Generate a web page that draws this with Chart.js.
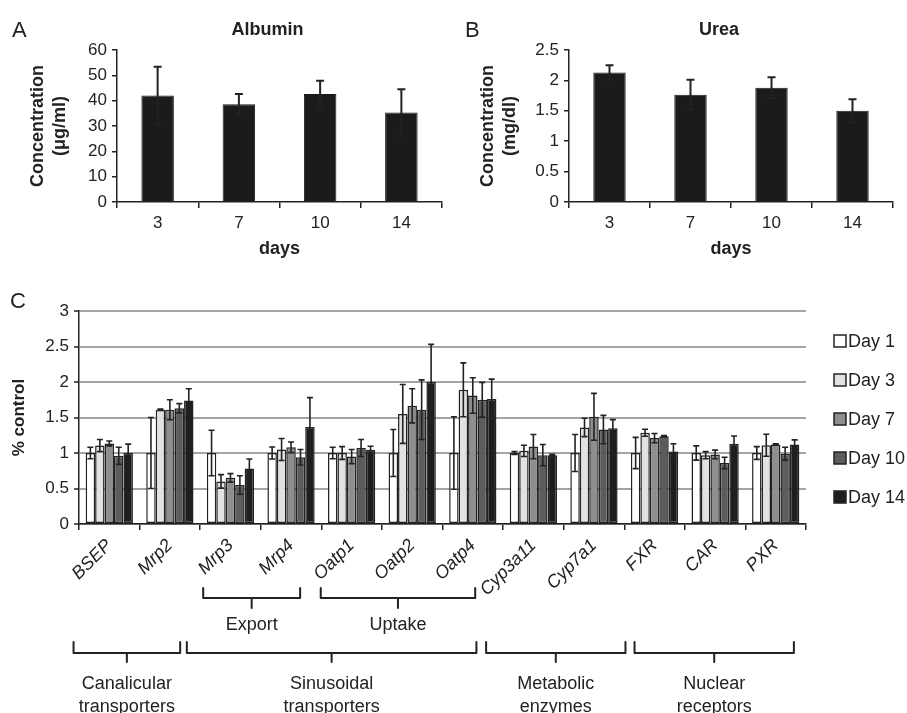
<!DOCTYPE html>
<html>
<head>
<meta charset="utf-8">
<script src="https://cdn.jsdelivr.net/npm/chart.js@4.4.1/dist/chart.umd.min.js"></script>
<style>
  html, body { margin: 0; padding: 0; background: #fff; }
  #wrap { position: relative; width: 907px; height: 713px; overflow: hidden; background: #fff; }
  canvas { position: absolute; }
</style>
</head>
<body>
<div id="wrap">
  <canvas id="albumin" width="450" height="270" style="left:0;top:0"></canvas>
  <canvas id="urea" width="457" height="270" style="left:450px;top:0"></canvas>
  <canvas id="expr" width="907" height="433" style="left:0;top:280px"></canvas>
</div>
<script>
// ---- Panel A / B: secreted markers over time in culture ----
const days = ['3', '7', '10', '14'];
const albumin = [42.0, 38.6, 42.6, 35.3];      // µg/ml
const albuminErr = [11.4, 4.0, 5.3, 9.2];
const urea = [2.13, 1.765, 1.88, 1.50];        // mg/dl
const ureaErr = [0.12, 0.245, 0.17, 0.19];

// ---- Panel C: relative gene expression ----
const genes = ['BSEP', 'Mrp2', 'Mrp3', 'Mrp4', 'Oatp1', 'Oatp2', 'Oatp4',
               'Cyp3a11', 'Cyp7a1', 'FXR', 'CAR', 'PXR'];
const seriesNames = ['Day 1', 'Day 3', 'Day 7', 'Day 10', 'Day 14'];
const day1    = [1, 1, 1, 1, 1, 1, 1, 1, 1, 1, 1, 1];
const day1Err = [0.08, 0.5, 0.32, 0.085, 0.08, 0.33, 0.51, 0.02, 0.26, 0.22, 0.10, 0.09];
const day3    = [1.105, 1.61, 0.60, 1.05, 1.0, 1.55, 1.89, 1.03, 1.36, 1.285, 0.97, 1.11];
const day3Err = [0.085, 0.01, 0.095, 0.155, 0.09, 0.415, 0.38, 0.08, 0.13, 0.05, 0.05, 0.155];
const day7    = [1.135, 1.61, 0.65, 1.08, 0.95, 1.665, 1.81, 1.09, 1.51, 1.21, 0.98, 1.12];
const day7Err = [0.035, 0.14, 0.06, 0.075, 0.10, 0.24, 0.25, 0.17, 0.33, 0.065, 0.06, 0.01];
const day10    = [0.96, 1.63, 0.55, 0.94, 1.07, 1.61, 1.75, 0.97, 1.33, 1.235, 0.86, 0.99];
const day10Err = [0.12, 0.065, 0.13, 0.11, 0.12, 0.42, 0.245, 0.15, 0.20, 0.01, 0.08, 0.09];
const day14    = [1.0, 1.74, 0.78, 1.365, 1.045, 2.0, 1.76, 0.97, 1.35, 1.02, 1.13, 1.12];
const day14Err = [0.125, 0.165, 0.135, 0.415, 0.05, 0.53, 0.28, 0.01, 0.12, 0.11, 0.11, 0.065];

// Gene groupings shown under the axis
const subGroups = [
  { label: ['Export'], from: 'Mrp3', to: 'Mrp4' },
  { label: ['Uptake'], from: 'Oatp1', to: 'Oatp4' }
];
const mainGroups = [
  { label: ['Canalicular', 'transporters'], from: 'BSEP', to: 'Mrp2' },
  { label: ['Sinusoidal', 'transporters'], from: 'Mrp3', to: 'Oatp4' },
  { label: ['Metabolic', 'enzymes'], from: 'Cyp3a11', to: 'Cyp7a1' },
  { label: ['Nuclear', 'receptors'], from: 'FXR', to: 'PXR' }
];

// ---- styling ----
const FAMILY = '"Liberation Sans", Arial, Helvetica, sans-serif';
const INK = '#222222';
const dayFills = ['#ffffff', '#e2e2e2', '#8e8e8e', '#5c5c5c', '#1e1e1e'];
// how far each bracket reaches beyond its first/last gene (in category units)
const bracketReach = {
  Export: [0.45, 0.15], Uptake: [0.51, 0.04],
  Canalicular: [0.59, 0.17], Sinusoidal: [0.72, 0.06],
  Metabolic: [0.78, 0.52], Nuclear: [0.33, 0.30]
};

Chart.defaults.font.family = FAMILY;
Chart.defaults.color = INK;

const f = (size, extra) => Object.assign({ family: FAMILY, size: size }, extra || {});
// plain numbers: 2.5, 2, 1.5 ... without padded decimals
const plainTick = (v) => String(Math.round(v * 100) / 100);

// error whiskers (both directions) centred on each bar
const errorBars = {
  id: 'errorBars',
  afterDatasetsDraw(chart, args, o) {
    const ctx = chart.ctx;
    const ys = chart.scales.y;
    ctx.save();
    ctx.strokeStyle = o.color || INK;
    ctx.lineWidth = o.width || 1.5;
    ctx.lineCap = 'butt';
    chart.data.datasets.forEach((ds, di) => {
      if (!ds.errors) return;
      const meta = chart.getDatasetMeta(di);
      meta.data.forEach((bar, i) => {
        const v = ds.data[i], e = ds.errors[i];
        const x = bar.x;
        const yt = ys.getPixelForValue(v + e);
        const yb = ys.getPixelForValue(v - e);
        const c = o.capHalf || 3;
        ctx.beginPath();
        ctx.moveTo(x, yt); ctx.lineTo(x, yb);
        ctx.moveTo(x - c, yt); ctx.lineTo(x + c, yt);
        ctx.moveTo(x - c, yb); ctx.lineTo(x + c, yb);
        ctx.stroke();
      });
    });
    ctx.restore();
  }
};

// panel letter and bold chart heading
const panelText = {
  id: 'panelText',
  afterDraw(chart, args, o) {
    const ctx = chart.ctx;
    const a = chart.chartArea;
    ctx.save();
    ctx.fillStyle = INK;
    ctx.textBaseline = 'middle';
    if (o.letter) {
      ctx.font = '22px ' + FAMILY;
      ctx.textAlign = 'left';
      ctx.fillText(o.letter, o.letterX, o.letterY);
    }
    if (o.title) {
      ctx.font = 'bold 18px ' + FAMILY;
      ctx.textAlign = 'center';
      ctx.fillText(o.title, (a.left + a.right) / 2 + (o.titleShift || 0), o.titleY);
    }
    ctx.restore();
  }
};

// legend listed down the right-hand side
const sideLegend = {
  id: 'sideLegend',
  afterDraw(chart, args, o) {
    const ctx = chart.ctx;
    const a = chart.chartArea;
    ctx.save();
    ctx.font = '18px ' + FAMILY;
    ctx.textAlign = 'left';
    ctx.textBaseline = 'middle';
    chart.data.datasets.forEach((ds, i) => {
      const x = a.right + o.offsetX;
      const y = a.top + o.firstY + i * o.step;
      ctx.fillStyle = ds.backgroundColor;
      ctx.fillRect(x, y - 6, 12, 12);
      ctx.strokeStyle = INK;
      ctx.lineWidth = 1.5;
      ctx.strokeRect(x, y - 6, 12, 12);
      ctx.fillStyle = INK;
      ctx.fillText(ds.label, x + 14, y + 1);
    });
    ctx.restore();
  }
};

// brackets grouping the genes under the axis
const groupBrackets = {
  id: 'groupBrackets',
  afterDraw(chart, args, o) {
    const ctx = chart.ctx;
    const xs = chart.scales.x;
    const base = chart.chartArea.bottom;
    ctx.save();
    ctx.strokeStyle = INK;
    ctx.fillStyle = INK;
    ctx.lineWidth = 2;
    ctx.lineCap = 'round';
    ctx.lineJoin = 'round';
    ctx.font = '18px ' + FAMILY;
    ctx.textAlign = 'center';
    ctx.textBaseline = 'middle';
    o.rows.forEach(row => {
      row.groups.forEach(g => {
        const reach = bracketReach[g.label[0]] || [0.5, 0.1];
        const x0 = xs.getPixelForValue(genes.indexOf(g.from) - reach[0]);
        const x1 = xs.getPixelForValue(genes.indexOf(g.to) + reach[1]);
        const xm = (x0 + x1) / 2;
        const yTop = base + row.top, yLine = base + row.line, yStem = base + row.stem;
        ctx.beginPath();
        ctx.moveTo(x0, yTop);
        ctx.lineTo(x0, yLine);
        ctx.lineTo(x1, yLine);
        ctx.lineTo(x1, yTop);
        ctx.moveTo(xm, yLine);
        ctx.lineTo(xm, yStem);
        ctx.stroke();
        g.label.forEach((t, k) => {
          ctx.fillText(t, xm, base + row.text + k * row.lineGap);
        });
      });
    });
    ctx.restore();
  }
};

function timeCourse(canvasId, values, errs, max, step, letter, title, unit) {
  return new Chart(document.getElementById(canvasId), {
    type: 'bar',
    data: {
      labels: days,
      datasets: [{
        data: values,
        errors: errs,
        backgroundColor: '#1b1b1b',
        borderColor: '#1b1b1b',
        borderWidth: 1,
        barPercentage: 0.4,
        categoryPercentage: 1
      }]
    },
    options: {
      responsive: false,
      animation: false,
      devicePixelRatio: 1,
      layout: { padding: { top: 50, right: canvasId === 'albumin' ? 8 : 14, left: 0, bottom: 0 } },
      plugins: {
        legend: { display: false },
        tooltip: { enabled: false },
        errorBars: { capHalf: 4, width: 2, color: INK },
        panelText: { letter: letter, letterX: canvasId === 'albumin' ? 12 : 15, letterY: 31,
                     title: title, titleShift: -12, titleY: 30 }
      },
      scales: {
        x: {
          grid: { display: true, drawOnChartArea: false, offset: true, tickLength: 6, color: INK, lineWidth: 1.5 },
          border: { color: INK, width: 1.5 },
          ticks: { color: INK, font: f(17), padding: 5 },
          title: { display: true, text: 'days', color: INK, font: f(18, { weight: 'bold' }), padding: { top: 4, bottom: 10 } },
          afterFit(s) { s.height = 68; }
        },
        y: {
          min: 0, max: max,
          ticks: { stepSize: step, color: INK, font: f(17), padding: 5, callback: plainTick },
          grid: { drawOnChartArea: false, tickLength: 5, color: INK, lineWidth: 1.5 },
          border: { color: INK, width: 1.5 },
          title: { display: true, text: ['Concentration', unit], color: INK,
                   font: f(18, { weight: 'bold', lineHeight: 1.22 }), padding: { top: 27, bottom: 0 } },
          afterFit(s) { s.width = canvasId === 'albumin' ? 117 : 119; }
        }
      }
    },
    plugins: [errorBars, panelText]
  });
}

timeCourse('albumin', albumin, albuminErr, 60, 10, 'A', 'Albumin', '(μg/ml)');
timeCourse('urea', urea, ureaErr, 2.5, 0.5, 'B', 'Urea', '(mg/dl)');

const exprValues = [day1, day3, day7, day10, day14];
const exprErrors = [day1Err, day3Err, day7Err, day10Err, day14Err];

new Chart(document.getElementById('expr'), {
  type: 'bar',
  data: {
    labels: genes,
    datasets: seriesNames.map((name, i) => ({
      label: name,
      data: exprValues[i],
      errors: exprErrors[i],
      backgroundColor: dayFills[i],
      borderColor: INK,
      borderWidth: 1.5,
      borderSkipped: false,
      barPercentage: 1,
      categoryPercentage: 0.78
    }))
  },
  options: {
    responsive: false,
    animation: false,
    devicePixelRatio: 1,
    layout: { padding: { top: 31, right: 101, left: 0, bottom: 0 } },
    plugins: {
      legend: { display: false },
      tooltip: { enabled: false },
      errorBars: { capHalf: 3, width: 1.6, color: INK },
      panelText: { letter: 'C', letterX: 10, letterY: 22 },
      sideLegend: { offsetX: 28, firstY: 30, step: 39 },
      groupBrackets: {
        rows: [
          { groups: subGroups, top: 64, line: 74, stem: 84, text: 101, lineGap: 23 },
          { groups: mainGroups, top: 118, line: 129, stem: 138, text: 160, lineGap: 23 }
        ]
      }
    },
    scales: {
      x: {
        grid: { display: true, drawOnChartArea: false, offset: true, tickLength: 6, color: INK, lineWidth: 1.5 },
        border: { color: INK, width: 1.5 },
        ticks: { color: INK, font: f(18, { style: 'italic' }), padding: 5,
                 minRotation: 45, maxRotation: 45, autoSkip: false },
        afterFit(s) { s.height = 189; }
      },
      y: {
        min: 0, max: 3,
        ticks: { stepSize: 0.5, color: INK, font: f(17), padding: 5, callback: plainTick },
        grid: { color: '#a4a4a4', lineWidth: 2, tickLength: 5, tickColor: INK, tickWidth: 1.5 },
        border: { color: INK, width: 1.5 },
        title: { display: true, text: '% control', color: INK,
                 font: f(17, { weight: 'bold' }), padding: { top: 9, bottom: 0 } },
        afterFit(s) { s.width = 79; }
      }
    }
  },
  plugins: [errorBars, panelText, sideLegend, groupBrackets]
});
</script>
</body>
</html>
